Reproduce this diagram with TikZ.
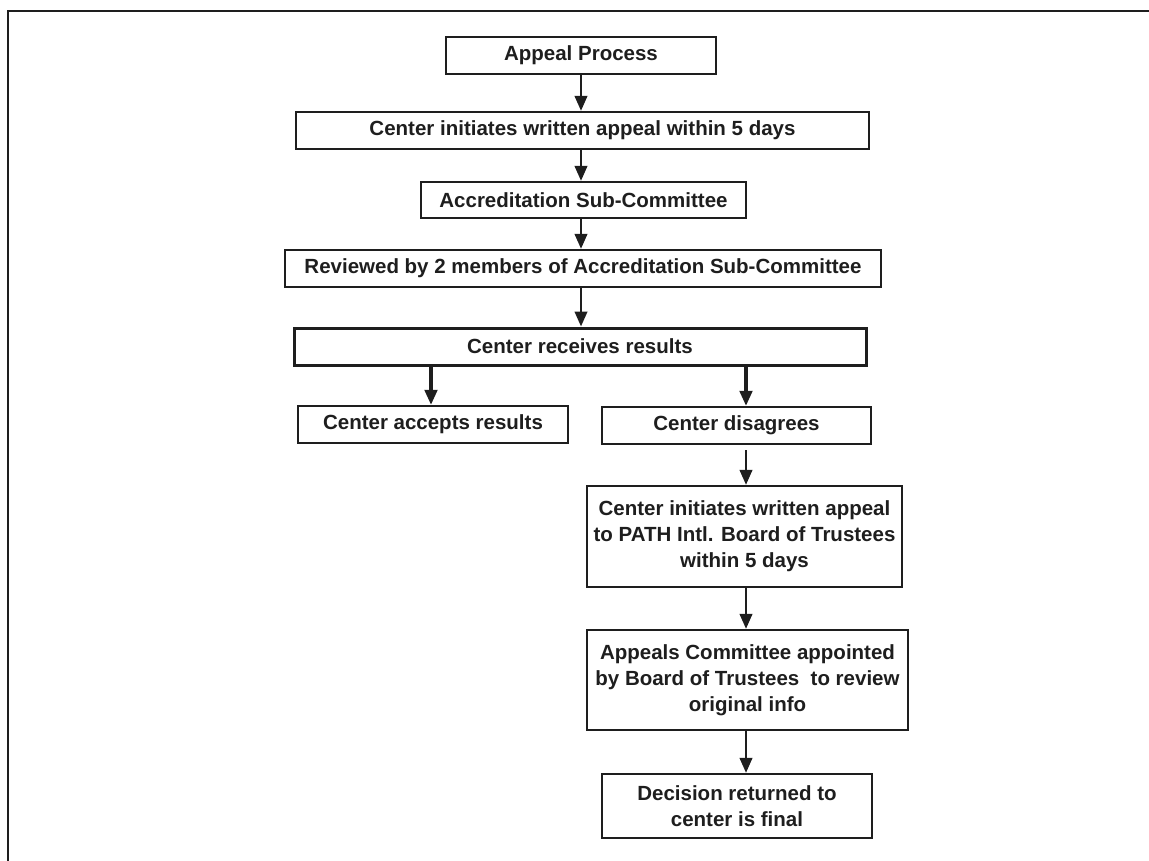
\documentclass[tikz,border=0pt]{standalone}
\usepackage{fontspec}
\setmainfont{Liberation Sans}
\usetikzlibrary{arrows.meta}
\definecolor{ink}{HTML}{1E1E1E}
\tikzset{
  box/.style={draw=ink, line width=2.3pt, rectangle, inner sep=0pt, align=center,
    text=ink, font=\fontsize{20.5}{26}\selectfont\bfseries},
  arr/.style={draw=ink, line width=2.5pt, -{Triangle[length=15pt,width=12.5pt]}},
  frame/.style={draw=ink, line width=2.8pt}
}
\begin{document}
\begin{tikzpicture}[x=1pt,y=-1pt]
\useasboundingbox (0,0) rectangle (1149,861);
\draw[frame] (8,861) -- (8,11) -- (1149,11);
\coordinate (colM) at (581,0);
\coordinate (colL) at (431,0);
\coordinate (colR) at (746,0);
\node[box, minimum width=270pt, minimum height=37pt] (appeal) at (581,55.5) {Appeal Process};
\node[box, minimum width=573pt, minimum height=37pt] (init) at (582.5,130.5) {Center initiates written appeal within 5 days};
\node[box, minimum width=325pt, minimum height=36pt] (accred) at (583.5,200) {Accreditation Sub-Committee};
\node[box, minimum width=596pt, minimum height=37pt] (review) at (583,268.5) {Reviewed by 2 members of Accreditation Sub-Committee};
\node[box, line width=3pt, minimum width=572pt, minimum height=37pt] (receives) at (580,346.5) {Center receives results};
\node[box, minimum width=270pt, minimum height=37pt] (accept) at (433,424.5) {Center accepts results};
\node[box, minimum width=269pt, minimum height=37pt] (disagree) at (736.5,425.5) {Center disagrees};
\node[box, minimum width=315pt, minimum height=101pt] (path) at (744.5,536.5) {Center initiates written appeal\\to PATH Intl. Board of Trustees\\within 5 days};
\node[box, minimum width=321pt, minimum height=100pt] (comm) at (747.5,680) {Appeals Committee appointed\\by Board of Trustees\ \ to review\\original info};
\node[box, minimum width=270pt, minimum height=64pt] (decision) at (737,806) {Decision returned to\\center is final};
\draw[arr] (appeal.south -| colM) -- (init.north -| colM);
\draw[arr] (init.south -| colM) -- (accred.north -| colM);
\draw[arr] (accred.south -| colM) -- (review.north -| colM);
\draw[arr] (review.south -| colM) -- (receives.north -| colM);
\draw[arr, line width=3.3pt] (receives.south -| colL) -- (accept.north -| colL);
\draw[arr, line width=3.3pt] (receives.south -| colR) -- (disagree.north -| colR);
\draw[arr, shorten <=5pt] (disagree.south -| colR) -- (path.north -| colR);
\draw[arr] (path.south -| colR) -- (comm.north -| colR);
\draw[arr] (comm.south -| colR) -- (decision.north -| colR);
\end{tikzpicture}
\end{document}
